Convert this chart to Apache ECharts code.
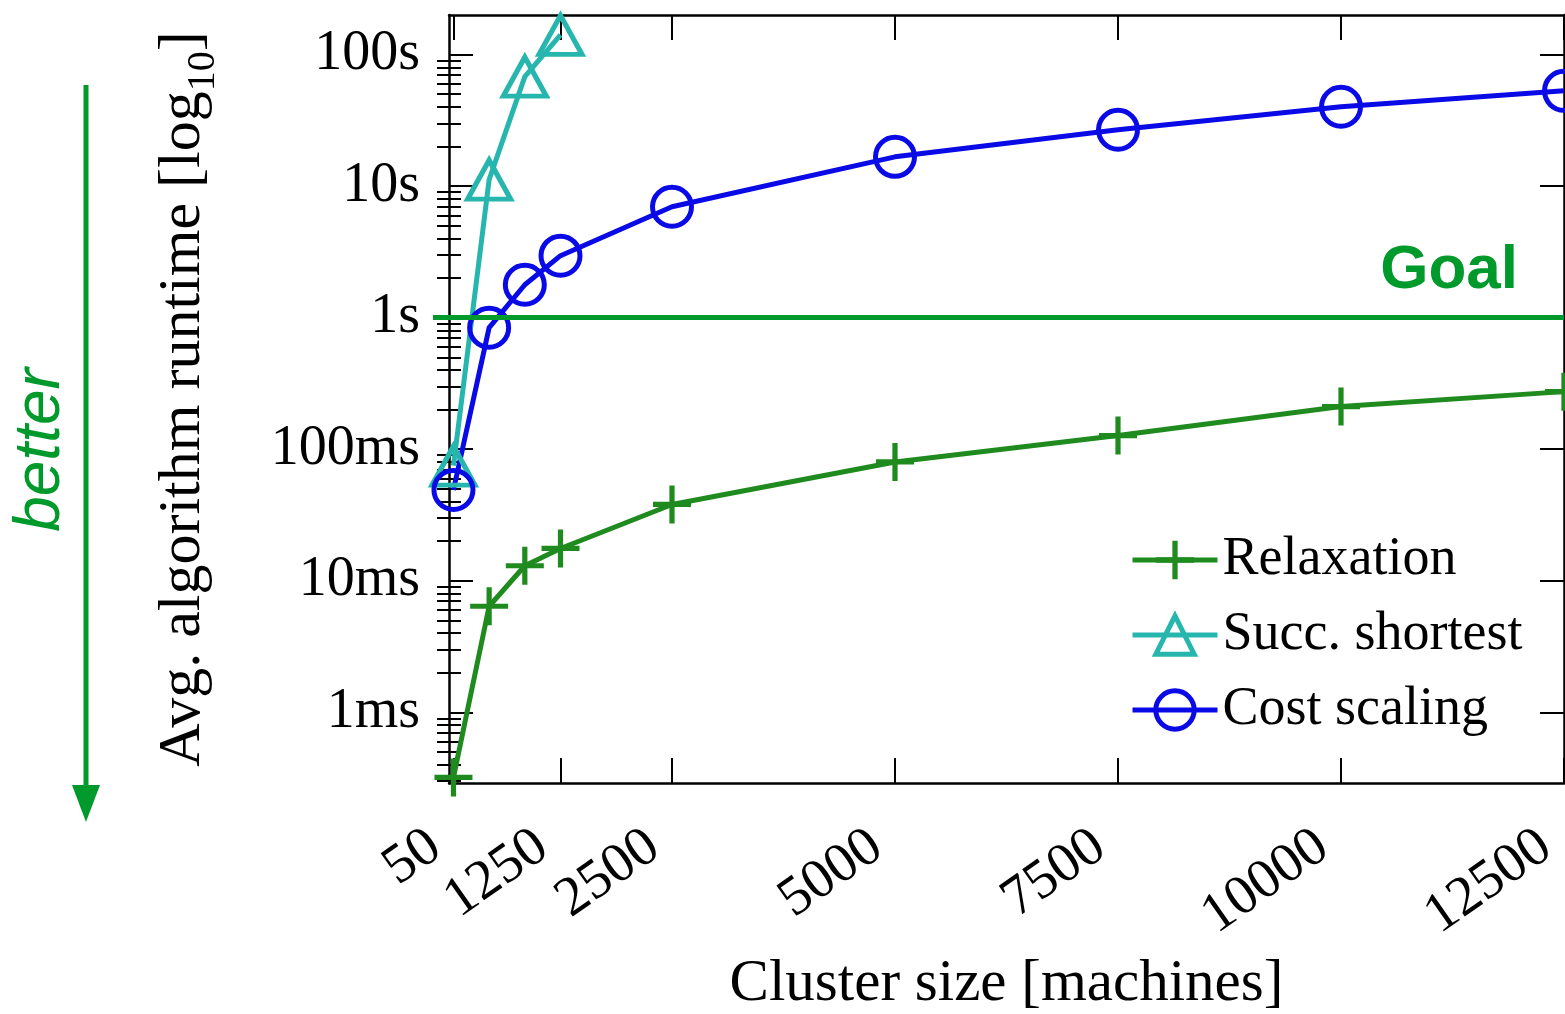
<!DOCTYPE html>
<html><head><meta charset="utf-8">
<script src="https://cdn.jsdelivr.net/npm/echarts@6/dist/echarts.min.js"></script>
<style>html,body{margin:0;padding:0;background:#fff}#c{width:1565px;height:1014px}</style>
</head><body><div id="c"></div>
<script>
// ---- data ----
const clusterSizes = [50, 450, 850, 1250, 2500, 5000, 7500, 10000, 12500];
const relaxation   = [0.00032, 0.0064, 0.013, 0.0176, 0.038, 0.080, 0.127, 0.211, 0.274];
const succShortest = [0.075, 11.2, 68, 141];
const costScaling  = [0.049, 0.84, 1.78, 2.96, 6.97, 16.7, 26.8, 40.1, 53];
const seriesNames  = ['Relaxation', 'Succ. shortest', 'Cost scaling'];
const xTickValues  = [50, 1250, 2500, 5000, 7500, 10000, 12500];
const yTickValues  = [0.001, 0.01, 0.1, 1, 10, 100];
const yTickLabels  = ['1ms', '10ms', '100ms', '1s', '10s', '100s'];
const goalValue = 1;

// ---- style ----
const GREEN = '#1f8b1f', CYAN = '#26b6ae', BLUE = '#0a0ae6', GOAL = '#009a2c';
const serif = "'Liberation Serif', 'Times New Roman', serif";
const yMin = 0.00029, yMax = 200;
const minorTicks = [];
[0.0001].concat(yTickValues).forEach(d => {
  for (let k = 2; k <= 9; k++) { const v = +(k * d).toPrecision(3); if (v > yMin && v < yMax) minorTicks.push(v); }
});
const pairs = ys => ys.map((v, i) => [clusterSizes[i], v]);
const labelFor = v => {
  const i = yTickValues.findIndex(t => Math.abs(Math.log10(t) - Math.log10(v)) < 1e-6);
  return i >= 0 ? yTickLabels[i] : '';
};
const axisLineStyle = { color: '#000', width: 2.5 };
const tickLineStyle = { color: '#000', width: 2 };

const xBase = { type: 'value', min: 0, max: 12500, splitLine: { show: false },
  axisLine: { show: true, onZero: false, lineStyle: axisLineStyle } };
const yBase = { type: 'log', logBase: 10, min: yMin, max: yMax, splitLine: { show: false } };

const chart = echarts.init(document.getElementById('c'));
chart.setOption({
  animation: false,
  backgroundColor: '#fff',
  grid: { left: 449, right: 1, top: 15, bottom: 231, outerBoundsMode: 'none', containLabel: false },
  xAxis: [
    Object.assign({}, xBase, {
      position: 'bottom',
      axisTick: { show: true, inside: true, length: 25, customValues: xTickValues, lineStyle: tickLineStyle },
      axisLabel: { customValues: xTickValues, formatter: v => String(v), rotate: 35, margin: 46,
        padding: [0, 22, 0, 0], fontSize: 56, fontFamily: serif, color: '#000' },
      name: 'Cluster size [machines]', nameLocation: 'middle', nameGap: 172,
      nameTextStyle: { fontSize: 59, fontFamily: serif, color: '#000' }
    }),
    Object.assign({}, xBase, {
      position: 'top',
      axisTick: { show: true, inside: true, length: 25, customValues: xTickValues, lineStyle: tickLineStyle },
      axisLabel: { show: false }
    })
  ],
  yAxis: [
    Object.assign({}, yBase, {
      position: 'left',
      axisLine: { show: true, onZero: false, lineStyle: axisLineStyle },
      axisTick: { show: true, inside: true, length: 24, customValues: yTickValues, lineStyle: tickLineStyle },
      axisLabel: { customValues: yTickValues, formatter: labelFor, margin: 29, fontSize: 56, fontFamily: serif, color: '#000' },
      name: 'Avg. algorithm runtime [log{sub|10}]', nameLocation: 'middle', nameRotate: 90, nameGap: 226,
      nameTextStyle: { fontSize: 60, fontFamily: serif, color: '#000',
        rich: { sub: { fontSize: 40, fontFamily: serif, color: '#000', verticalAlign: 'bottom', padding: [40, 0, 0, 0] } } }
    }),
    Object.assign({}, yBase, {
      position: 'left', axisLine: { show: false },
      axisTick: { show: true, inside: true, length: 12, customValues: minorTicks, lineStyle: tickLineStyle },
      axisLabel: { show: false }
    }),
    Object.assign({}, yBase, {
      position: 'right',
      axisLine: { show: true, onZero: false, lineStyle: axisLineStyle },
      axisTick: { show: true, inside: true, length: 24, customValues: yTickValues, lineStyle: tickLineStyle },
      axisLabel: { show: false }
    }),
    Object.assign({}, yBase, {
      position: 'right', axisLine: { show: false },
      axisTick: { show: true, inside: true, length: 12, customValues: minorTicks, lineStyle: tickLineStyle },
      axisLabel: { show: false }
    })
  ],
  legend: {
    orient: 'vertical', left: 1130, top: 533, padding: 0, itemWidth: 85, itemHeight: 48, itemGap: 21,
    selectedMode: false,
    data: [
      { name: seriesNames[0], lineStyle: { width: 5 } },
      { name: seriesNames[1], lineStyle: { width: 5 }, itemStyle: { borderWidth: 5 } },
      { name: seriesNames[2], lineStyle: { width: 5 }, itemStyle: { borderWidth: 5 } }
    ],
    textStyle: { fontFamily: serif, fontSize: 54, color: '#000', lineHeight: 54 }
  },
  series: [
    {
      name: seriesNames[0], type: 'line', data: pairs(relaxation),
      symbol: 'path://M-1.1,-8 L1.1,-8 L1.1,-1.1 L8,-1.1 L8,1.1 L1.1,1.1 L1.1,8 L-1.1,8 L-1.1,1.1 L-8,1.1 L-8,-1.1 L-1.1,-1.1 Z',
      symbolSize: 38, showAllSymbol: true,
      itemStyle: { color: GREEN }, lineStyle: { color: GREEN, width: 5 },
      markLine: {
        silent: true, symbol: ['none', 'none'],
        lineStyle: { color: GOAL, width: 5, type: 'solid' },
        label: { show: true, position: 'insideEndTop', formatter: 'Goal', distance: [46, 16],
          fontFamily: "'Liberation Sans', Arial, sans-serif", fontWeight: 'bold', fontSize: 62, color: GOAL },
        data: [[{ x: 433, yAxis: goalValue }, { coord: [12500, goalValue] }]]
      }
    },
    {
      name: seriesNames[1], type: 'line', data: pairs(succShortest),
      symbol: 'triangle', symbolSize: [43, 39], showAllSymbol: true,
      itemStyle: { color: 'rgba(0,0,0,0)', borderColor: CYAN, borderWidth: 5 },
      lineStyle: { color: CYAN, width: 5 }
    },
    {
      name: seriesNames[2], type: 'line', data: pairs(costScaling),
      symbol: 'circle', symbolSize: 39, showAllSymbol: true,
      itemStyle: { color: 'rgba(0,0,0,0)', borderColor: BLUE, borderWidth: 5 },
      lineStyle: { color: BLUE, width: 5 }
    }
  ],
  graphic: [
    { type: 'text', x: 41, y: 450, rotation: Math.PI / 2,
      style: { text: 'better', fill: GOAL, font: "italic 64px 'Liberation Sans', Arial, sans-serif", align: 'center', verticalAlign: 'middle' } },
    { type: 'line', shape: { x1: 86, y1: 85, x2: 86, y2: 790 }, style: { stroke: GOAL, lineWidth: 5 } },
    { type: 'polygon', shape: { points: [[72, 785], [100, 785], [86, 822]] }, style: { fill: GOAL } }
  ]
});
</script></body></html>
